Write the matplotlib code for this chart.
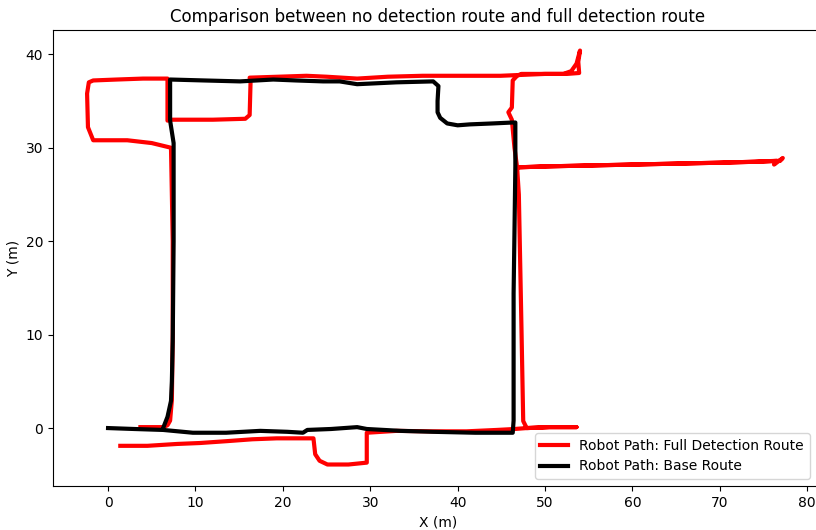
import matplotlib
matplotlib.use("Agg")
import matplotlib.pyplot as plt

# Full detection route (red)
full_x = [1.4, 4.5, 7.9, 10.5, 13.6, 16.5, 19.3, 23.5,
          23.7, 24.2, 25.1, 27.5, 29.6, 29.6,
          33.0, 37.0, 41.0, 44.5, 46.5, 47.9, 50.5, 53.6,
          50.5, 47.9, 47.5, 47.3, 47.0, 46.8,
          50.0, 55.0, 60.0, 65.0, 70.0, 74.0, 76.5, 76.2, 77.2, 76.9,
          74.0, 70.0, 60.0, 50.0, 46.8,
          46.5, 46.2, 45.8, 46.2, 46.3, 46.8, 47.3,
          50.0, 52.1, 53.0, 53.6, 54.0, 53.8, 53.9, 52.5, 50.0,
          44.9, 40.0, 36.0, 32.0, 28.5, 25.0, 22.7, 19.5, 16.2,
          16.3, 16.2, 15.7, 12.0, 9.5, 7.3,
          6.8, 6.8, 4.0, 1.0, -1.7, -2.2, -2.4, -2.3, -1.7,
          2.2, 5.0, 7.2, 7.4, 7.4, 7.3, 7.1, 6.8, 6.3, 3.7]
full_y = [-1.9, -1.9, -1.7, -1.6, -1.4, -1.2, -1.1, -1.1,
          -2.8, -3.5, -3.9, -3.9, -3.7, -0.5,
          -0.3, -0.35, -0.35, -0.2, -0.1, 0.0, 0.1, 0.1,
          0.1, 0.0, 0.75, 10.7, 25.0, 27.9,
          28.0, 28.1, 28.2, 28.3, 28.4, 28.5, 28.6, 28.2, 28.9, 28.6,
          28.5, 28.4, 28.2, 28.0, 27.9,
          30.0, 33.0, 33.8, 34.3, 37.2, 37.7, 37.9,
          37.9, 37.9, 38.2, 39.0, 40.4, 39.2, 38.0, 37.9, 37.9,
          37.7, 37.7, 37.7, 37.6, 37.4, 37.6, 37.7, 37.6, 37.5,
          36.9, 33.5, 33.1, 33.0, 33.0, 33.0,
          32.9, 37.4, 37.4, 37.3, 37.2, 37.0, 35.8, 32.2, 30.8,
          30.8, 30.5, 30.0, 20.0, 10.0, 3.0, 0.8, 0.3, 0.1, 0.1]

# Base route (black)
base_x = [0.0, 3.0, 6.3, 9.7, 13.5, 17.4, 20.5, 22.3, 22.8, 25.5, 28.5, 29.6,
          33.5, 37.2, 42.0, 46.3, 46.4, 46.4, 46.4, 46.5, 46.6, 46.6,
          46.3, 44.0, 41.4, 40.0, 38.8, 38.0, 37.7, 37.7, 37.8, 37.2,
          33.0, 28.5, 26.5, 24.6, 21.5, 18.9, 15.1, 11.0, 7.1,
          7.1, 7.5, 7.5, 7.5, 7.4, 7.3, 7.2, 6.8, 6.3]
base_y = [0.0, -0.1, -0.2, -0.5, -0.5, -0.3, -0.4, -0.5, -0.2, -0.1, 0.1, -0.1,
          -0.3, -0.4, -0.5, -0.5, 0.8, 8.0, 14.4, 21.0, 28.0, 32.7,
          32.7, 32.6, 32.5, 32.4, 32.6, 33.2, 33.8, 35.0, 36.6, 37.1,
          37.0, 36.8, 37.1, 37.1, 37.2, 37.3, 37.1, 37.2, 37.3,
          32.9, 30.5, 27.5, 20.0, 9.3, 5.0, 2.9, 1.2, 0.0]

fig = plt.figure(figsize=(8.16, 5.30), dpi=100)
ax = fig.add_axes([53 / 816, 44 / 530, 770 / 816, 456 / 530])

ax.plot(full_x, full_y, color="red", linewidth=3,
        label="Robot Path: Full Detection Route")
ax.plot(base_x, base_y, color="black", linewidth=3,
        label="Robot Path: Base Route")

ax.set_xlim(-6.3, 81.8)
ax.set_ylim(-6.2, 42.6)
ax.set_title("Comparison between no detection route and full detection route", fontsize=12)
ax.set_xlabel("X (m)")
ax.set_ylabel("Y (m)")
ax.legend(loc="lower right", bbox_to_anchor=(816 / 823, 0))

fig.savefig("out.png", dpi=100)
